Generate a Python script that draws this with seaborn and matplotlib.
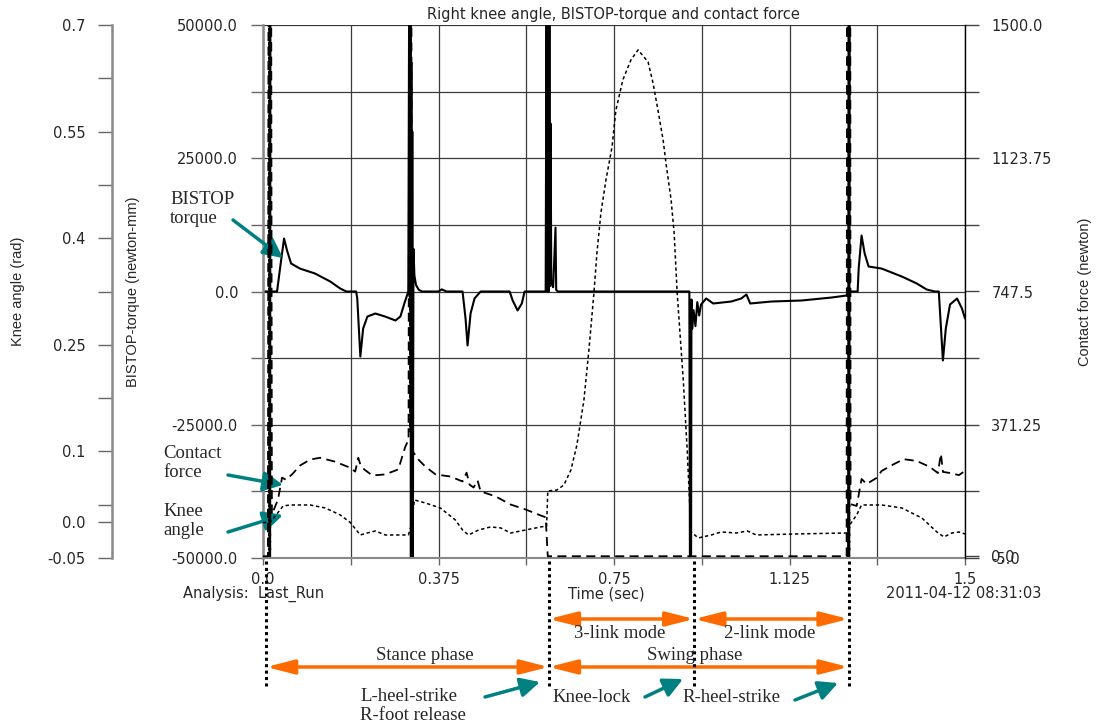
import numpy as np
import pandas as pd
import matplotlib
matplotlib.use("Agg")
import matplotlib.pyplot as plt
import seaborn as sns
from matplotlib import transforms
from matplotlib.lines import Line2D

# ---------------- data ----------------
torque_t = [0, 0.030, 0.0386, 0.045, 0.0514, 0.060, 0.079, 0.111, 0.1436, 0.165, 0.178, 0.199,
            0.2014, 0.208, 0.214, 0.223, 0.240, 0.261, 0.283, 0.2936, 0.302, 0.3105,
            0.3125, 0.3135, 0.3150, 0.3160, 0.3170, 0.3180, 0.3190, 0.3200, 0.3215, 0.3235,
            0.327, 0.333, 0.340, 0.375, 0.382, 0.392,
            0.4264, 0.4328, 0.4371, 0.4435, 0.452, 0.465, 0.527, 0.5335, 0.544, 0.553, 0.559, 0.604,
            0.6060, 0.6070, 0.6080, 0.6090, 0.6100, 0.6110, 0.6120, 0.6130, 0.6145, 0.6160, 0.6200,
            0.6250, 0.6265, 0.630,
            0.911, 0.9125, 0.9135, 0.9145, 0.9155, 0.917, 0.920, 0.924, 0.928, 0.932, 0.936,
            0.947, 0.962, 1.0006, 1.022, 1.033, 1.041, 1.0864, 1.1506, 1.215, 1.247, 1.2514,
            1.2706, 1.2728, 1.279, 1.2856, 1.294, 1.322, 1.365, 1.397, 1.418, 1.4356, 1.444,
            1.4528, 1.459, 1.468, 1.483, 1.4935, 1.5]
torque_v = [0, 0, 5800, 9940, 7690, 5250, 4300, 3380, 1880, 560, 0, 0,
            -1300, -12200, -6940, -4700, -4130, -4700, -5440, -4690, -2250, 0,
            62000, -1000, 62000, -62000, 43000, -62000, 30000, -62000, 8000, 3000,
            1200, 300, 0, 0, 400, 0,
            0, -5070, -10130, -4130, -1310, 0, 0, -1690, -3560, -2250, 0, 0,
            62000, 0, 62000, 0, 62000, 0, 62000, 1000, 31500, 1500, 800,
            12000, 300, 0,
            0, -62000, -2000, -62000, -1500, -7000, -3500, -6500, -2000, -4500, -2440,
            -1310, -2250, -1880, -1310, -560, -2250, -1880, -1690, -1130, -750, 0,
            0, 4300, 10500, 7130, 4690, 4300, 2810, 1500, 375, 0, 0,
            -12940, -6940, -2440, -1310, -3190, -5070]

knee_t = [0, 0.015, 0.028, 0.043, 0.058, 0.1007, 0.133, 0.165, 0.1864, 0.2078, 0.2228, 0.240,
          0.2614, 0.3107, 0.317, 0.3235, 0.347, 0.379, 0.411, 0.4264, 0.439, 0.4607, 0.4864,
          0.508, 0.529, 0.561, 0.5935, 0.606, 0.6085, 0.628, 0.643, 0.658, 0.6707, 0.6857,
          0.6964, 0.7071, 0.7135, 0.722, 0.7328, 0.7457, 0.754, 0.769, 0.7864, 0.8014, 0.8228,
          0.8335, 0.844, 0.855, 0.861, 0.872, 0.8785, 0.885,
          0.898, 0.9064, 0.9128, 0.915, 0.930, 0.958, 0.979, 1.0114, 1.035, 1.054, 1.1507,
          1.247, 1.2535, 1.2685, 1.279, 1.322, 1.365, 1.4078, 1.44, 1.455, 1.472, 1.487, 1.5]
knee_v = [0.0, 0.0, 0.0106, 0.0232, 0.0246, 0.0246, 0.0204, 0.0106, 0.0, -0.0176, -0.0148, -0.012,
          -0.0176, -0.0176, -0.0035, 0.0317, 0.0274, 0.0204, 0.0035, -0.0106, -0.0176, -0.0106, -0.0063,
          -0.0077, -0.0148, -0.0106, -0.0063, -0.005, 0.0443, 0.0457, 0.0528, 0.0739, 0.109, 0.172,
          0.2427, 0.323, 0.379, 0.4355, 0.482, 0.528, 0.580, 0.623, 0.651, 0.665, 0.648,
          0.618, 0.580, 0.538, 0.506, 0.454, 0.4076, 0.323,
          0.2005, 0.102, 0.0106, -0.0134, -0.0218, -0.0176, -0.0134, -0.0148, -0.012, -0.0176, -0.016,
          -0.0148, -0.0035, 0.0106, 0.0246, 0.0246, 0.0204, 0.0063, -0.0134, -0.0204, -0.0148, -0.0134, -0.0162]

force_t = [0, 0.0105, 0.0125, 0.0135, 0.0145, 0.0155, 0.0165, 0.019, 0.032, 0.0407, 0.049, 0.062,
           0.079, 0.1007, 0.122, 0.154, 0.186, 0.197, 0.2036, 0.208, 0.2164, 0.2336, 0.261, 0.289,
           0.304, 0.311, 0.3135, 0.3150, 0.3165, 0.3180, 0.332, 0.347, 0.3686, 0.4007, 0.4264,
           0.435, 0.4414, 0.450, 0.4585, 0.465, 0.497, 0.529, 0.561, 0.5935, 0.604, 0.6085,
           1.247, 1.2485, 1.2500, 1.2515, 1.2530, 1.2545, 1.2555, 1.2685, 1.279, 1.2898, 1.311,
           1.322, 1.348, 1.369, 1.397, 1.425, 1.442, 1.4485, 1.453, 1.468, 1.487, 1.5]
force_v = [0, 0, 2600, 0, 2600, 0, 2600, 118, 160, 222, 216, 231,
           256, 273, 278, 267, 250, 239, 278, 259, 245, 228, 231, 245,
           309, 329, 2600, 350, 2600, 300, 273, 253, 231, 225, 211,
           236, 202, 194, 214, 183, 169, 146, 132, 115, 110, 0,
           0, 2600, 0, 2600, 0, 2600, 147, 142, 218, 204, 221,
           241, 260, 274, 269, 252, 235, 289, 238, 235, 229, 241]

time_ticks = [0.0, 0.375, 0.75, 1.125, 1.5]
time_tick_labels = ["0.0", "0.375", "0.75", "1.125", "1.5"]
torque_ticks = [-50000, -25000, 0, 25000, 50000]
torque_tick_labels = ["-50000.0", "-25000.0", "0.0", "25000.0", "50000.0"]
knee_ticks = [-0.05, 0.0, 0.1, 0.25, 0.4, 0.55, 0.7]
knee_tick_labels = ["-0.05", "0.0", "0.1", "0.25", "0.4", "0.55", "0.7"]
force_ticks = [-5.0, 0.0, 371.25, 747.5, 1123.75, 1500.0]
force_tick_labels = ["-5.0", "0.0", "371.25", "747.5", "1123.75", "1500.0"]

# gait events (sec): R-heel-strike, L-heel-strike / R-foot release, knee-lock, R-heel-strike
event_times = [0.0065, 0.6107, 0.9214, 1.2514]

# ---------------- style ----------------
sns.set_theme(style="white")
plt.rcParams["font.family"] = ["DejaVu Sans"]
W, H = 1102, 726
SANS = 10.5
SERIF = ["Liberation Serif", "DejaVu Serif"]
ORANGE = "#FF6A00"
TEAL = "#008080"

fig = plt.figure(figsize=(W / 100, H / 100), dpi=100)
ax = fig.add_axes([263 / W, 1 - 558 / H, 702 / W, 533 / H])
ax_k = ax.twinx()
ax_f = ax.twinx()

df_t = pd.DataFrame({"t": torque_t, "v": torque_v})
df_k = pd.DataFrame({"t": knee_t, "v": knee_v})
df_f = pd.DataFrame({"t": force_t, "v": force_v})

sns.lineplot(data=df_t, x="t", y="v", ax=ax, color="black", lw=1.5,
             estimator=None, sort=False)
sns.lineplot(data=df_k, x="t", y="v", ax=ax_k, color="black", lw=1.1,
             linestyle=(0, (2.2, 1.8)), estimator=None, sort=False)
sns.lineplot(data=df_f, x="t", y="v", ax=ax_f, color="black", lw=1.3,
             linestyle=(0, (5, 3)), estimator=None, sort=False)

# main (torque) axis
ax.set_xlim(0, 1.5)
ax.set_ylim(-50000, 50000)
ax.set_xticks(time_ticks)
ax.set_xticklabels(time_tick_labels)
ax.set_xticks([0.1875, 0.5625, 0.9375, 1.3125], minor=True)
ax.set_yticks(torque_ticks)
ax.set_yticklabels(torque_tick_labels)
ax.set_yticks([-37500, -12500, 12500, 37500], minor=True)
ax.grid(True, which="both", color="#3a3a3a", lw=0.9)
ax.tick_params(axis="y", which="both", direction="out", left=True, length=9, width=1,
               color="#666666", pad=9, labelsize=SANS)
ax.tick_params(axis="x", which="both", direction="out", bottom=True, length=5, width=1,
               color="#666666", pad=5, labelsize=SANS)
for s in ["top", "right"]:
    ax.spines[s].set_visible(False)
ax.spines["left"].set_color("#888888")
ax.spines["left"].set_linewidth(1.8)
ax.spines["bottom"].set_color("#888888")
ax.spines["bottom"].set_linewidth(1.5)
ax.set_xlabel("")
ax.set_ylabel("BISTOP-torque (newton-mm)", family=["Liberation Sans"], fontsize=10.5)
ax.yaxis.set_label_coords((133 - 263) / 702, 0.5)
ax.yaxis.label.set(ha="center", va="center", rotation_mode="default")

# knee-angle axis (far left)
ax_k.set_ylim(-0.05, 0.7)
ax_k.set_yticks(knee_ticks)
ax_k.set_yticklabels(knee_tick_labels)
ax_k.set_yticks([0.025, 0.175, 0.325, 0.475, 0.625], minor=True)
ax_k.yaxis.tick_left()
ax_k.yaxis.set_label_position("left")
ax_k.spines["left"].set_position(("axes", (112 - 263) / 702))
ax_k.spines["left"].set_visible(True)
ax_k.spines["left"].set_color("#888888")
ax_k.spines["left"].set_linewidth(1.8)
for s in ["top", "right", "bottom"]:
    ax_k.spines[s].set_visible(False)
ax_k.tick_params(axis="y", which="both", direction="out", length=10, width=1,
                 color="#666666", pad=9, labelsize=SANS)
ax_k.set_xlabel("")
ax_k.set_ylabel("Knee angle (rad)", family=["Liberation Sans"], fontsize=10.5)
ax_k.yaxis.set_label_coords((18 - 263) / 702, 0.5)
ax_k.yaxis.label.set(ha="center", va="center", rotation_mode="default")

# contact-force axis (right)
ax_f.set_ylim(-5, 1500)
ax_f.set_yticks(force_ticks)
ax_f.set_yticklabels(force_tick_labels)
ax_f.set_yticks([183.125, 559.375, 935.625, 1311.875], minor=True)
for s in ["top", "left", "bottom"]:
    ax_f.spines[s].set_visible(False)
ax_f.spines["right"].set_color("black")
ax_f.spines["right"].set_linewidth(1.0)
ax_f.tick_params(axis="y", which="both", direction="out", right=True, length=10, width=1,
                 color="#444444", pad=9, labelsize=SANS)
ax_f.set_xlabel("")
ax_f.set_ylabel("Contact force (newton)", family=["Liberation Sans"], fontsize=10.5)
ax_f.yaxis.set_label_coords((1085 - 263) / 702, 0.5)
ax_f.yaxis.label.set(ha="center", va="center", rotation_mode="default")


def fx(px):
    return px / W


def fy(py):
    return 1 - py / H


# header / footer texts
fig.text(fx(613), fy(14), "Right knee angle, BISTOP-torque and contact force",
         ha="center", va="center", fontsize=SANS)
fig.text(fx(183), fy(594), "Analysis:  Last_Run", ha="left", va="center", fontsize=SANS)
fig.text(fx(606), fy(594), "Time (sec)", ha="center", va="center", fontsize=SANS)
fig.text(fx(964), fy(594), "2011-04-12 08:31:03", ha="center", va="center", fontsize=SANS)

# event lines below the plot
trans_ev = transforms.blended_transform_factory(ax.transData, fig.transFigure)
for t in event_times:
    fig.add_artist(Line2D([t, t], [fy(561), fy(688)], transform=trans_ev, color="black",
                          lw=2.2, linestyle=(0, (1, 1.1))))

# phase arrows (orange)
def span_arrow(t0, t1, ypx):
    ax.annotate("", xy=(t1, fy(ypx)), xytext=(t0, fy(ypx)),
                xycoords=("data", "figure fraction"), textcoords=("data", "figure fraction"),
                arrowprops=dict(arrowstyle="<|-|>,head_length=1.3,head_width=0.33", color=ORANGE,
                                lw=2.5, shrinkA=0, shrinkB=0, mutation_scale=13),
                annotation_clip=False)


span_arrow(event_times[1], event_times[2], 619)
span_arrow(event_times[2], event_times[3], 619)
span_arrow(event_times[0], event_times[1], 667)
span_arrow(event_times[1], event_times[3], 667)

fs_serif = 13.5
fig.text(fx(620), fy(634), "3-link mode", ha="center", va="center", family=SERIF, fontsize=fs_serif)
fig.text(fx(770), fy(634), "2-link mode", ha="center", va="center", family=SERIF, fontsize=fs_serif)
fig.text(fx(425), fy(655), "Stance phase", ha="center", va="center", family=SERIF, fontsize=fs_serif)
fig.text(fx(695), fy(655), "Swing phase", ha="center", va="center", family=SERIF, fontsize=fs_serif)
fig.text(fx(360), fy(706), "L-heel-strike\nR-foot release", ha="left", va="center",
         family=SERIF, fontsize=fs_serif, linespacing=1.1)
fig.text(fx(552), fy(698), "Knee-lock", ha="left", va="center", family=SERIF, fontsize=fs_serif)
fig.text(fx(682), fy(698), "R-heel-strike", ha="left", va="center", family=SERIF, fontsize=fs_serif)
fig.text(fx(170), fy(209), "BISTOP\ntorque", ha="left", va="center", family=SERIF,
         fontsize=fs_serif, linespacing=1.1)
fig.text(fx(163), fy(463), "Contact\nforce", ha="left", va="center", family=SERIF,
         fontsize=fs_serif, linespacing=1.1)
fig.text(fx(163), fy(521), "Knee\nangle", ha="left", va="center", family=SERIF,
         fontsize=fs_serif, linespacing=1.1)


# pointer arrows (teal)
def pointer(x0, y0, x1, y1):
    ax.annotate("", xy=(fx(x1), fy(y1)), xytext=(fx(x0), fy(y0)),
                xycoords="figure fraction", textcoords="figure fraction",
                arrowprops=dict(arrowstyle="-|>,head_length=0.9,head_width=0.45", color=TEAL,
                                lw=2.5, shrinkA=0, shrinkB=0, mutation_scale=13),
                annotation_clip=False)


pointer(233, 220, 283, 258)
pointer(228, 475, 283, 485)
pointer(228, 532, 283, 515)
pointer(485, 697, 540, 682)
pointer(645, 697, 683, 679)
pointer(795, 700, 838, 683)

fig.savefig("out.png", dpi=100)
